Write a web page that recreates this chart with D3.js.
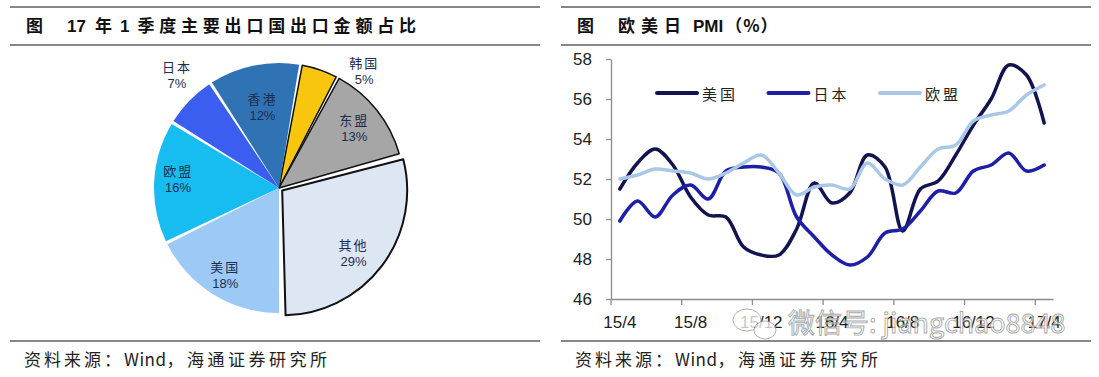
<!DOCTYPE html>
<html>
<head>
<meta charset="utf-8">
<script src="https://cdn.jsdelivr.net/npm/d3@7"></script>
<style>
    body { margin: 0; background: #fff; }
    svg { display: block; }
</style>
</head>
<body>
<svg id="chart" width="1099" height="377"></svg>
<script>
// pie: share of exports, Q1 2017 (clockwise from the top)
const pieNames = ['韩国', '东盟', '其他', '美国', '欧盟', '日本', '香港'];
const pieShares = [5, 13, 29, 18, 16, 7, 12];

// PMI lines
const months = ['15/4', '15/5', '15/6', '15/7', '15/8', '15/9', '15/10', '15/11', '15/12',
    '16/1', '16/2', '16/3', '16/4', '16/5', '16/6', '16/7', '16/8', '16/9', '16/10', '16/11', '16/12',
    '17/1', '17/2', '17/3', '17/4'];
const monthTicks = ['15/4', '15/8', '15/12', '16/4', '16/8', '16/12', '17/4'];
const yTicks = [46, 48, 50, 52, 54, 56, 58];
const seriesNames = ['美国', '日本', '欧盟'];
const usPMI = [51.5, 52.8, 53.5, 52.7, 51.1, 50.2, 50.1, 48.6, 48.2, 48.2, 49.5, 51.8, 50.8,
    51.3, 53.2, 52.6, 49.4, 51.5, 51.9, 53.2, 54.7, 56.0, 57.7, 57.2, 54.8];
const jpPMI = [49.9, 50.9, 50.1, 51.2, 51.7, 51.0, 52.4, 52.6, 52.6, 52.3, 50.1, 49.1, 48.2,
    47.7, 48.1, 49.3, 49.5, 50.4, 51.4, 51.3, 52.4, 52.7, 53.3, 52.4, 52.7];
const euPMI = [52.0, 52.2, 52.5, 52.4, 52.3, 52.0, 52.3, 52.8, 53.2, 52.3, 51.2, 51.6, 51.7,
    51.5, 52.8, 52.0, 51.7, 52.6, 53.5, 53.7, 54.9, 55.2, 55.4, 56.2, 56.7];

const CJK = '"Noto Sans CJK SC", "Noto Sans", sans-serif';
const LATIN = '"Liberation Sans", Arial, sans-serif';

const sliceColors = {
    韩国: '#f8c60f',
    东盟: '#a6a6a6',
    其他: '#dde7f4',
    美国: '#9dc9f6',
    欧盟: '#17bdf1',
    日本: '#3c5ef0',
    香港: '#2f73b5',
};
const sliceStroke = { 韩国: 1.5, 东盟: 1.5, 其他: 2 };
// where Excel put each label: radius factor and optional angle (deg)
const labelPlace = {
    韩国: { f: 1.16, a: 36 },
    东盟: { f: 0.77 },
    其他: { f: 0.79, a: 131 },
    美国: { f: 0.82 },
    欧盟: { f: 0.81, a: 275 },
    日本: { f: 1.22, a: 318 },
    香港: { f: 0.66 },
};
const seriesColors = ['#12134f', '#1d1fa6', '#a9c8e8'];

const svg = d3.select('#chart');

// text made of pieces: [string, letter spacing, gap before, font]
function spacedText(sel, pieces) {
    pieces.forEach(([str, sp, gap, font]) => {
        const t = sel.append('tspan')
            .attr('dx', gap || 0)
            .style('letter-spacing', `${sp}px`)
            .text(str);
        if (font) t.style('font-family', font);
    });
    return sel;
}

function drawFrame(x0, x1, titlePieces) {
    [7, 45, 341].forEach(yy => {
        svg.append('line').attr('x1', x0).attr('x2', x1).attr('y1', yy).attr('y2', yy)
            .attr('stroke', '#111').attr('stroke-width', 1.2);
    });

    svg.append('text')
        .attr('x', x0 + 16).attr('y', 32)
        .style('font-family', CJK).style('font-size', '17px').style('font-weight', 'bold')
        .attr('fill', '#111')
        .text('图');
    const title = svg.append('text')
        .attr('x', x0 + 57).attr('y', 32)
        .style('font-family', CJK).style('font-size', '17px').style('font-weight', 'bold')
        .attr('fill', '#111');
    spacedText(title, titlePieces);

    const foot = svg.append('text')
        .attr('x', x0 + 14).attr('y', 366)
        .style('font-family', CJK).style('font-size', '17px')
        .attr('fill', '#222');
    spacedText(foot, [['资料来源：', 3], ['Wind', 0.5], ['，海通证券研究所', 3.5]]);
}

drawFrame(10, 540, [['17', 0, 0, LATIN], ['年', 0, 9], ['1', 0, 8, LATIN], ['季度主要出口国出口金额占比', 4.8, 8]]);
drawFrame(561, 1091, [['欧美日', 6], ['PMI', 0, 6, LATIN], ['（%）', 1, 2]]);

// ---------- pie ----------
const R = 125;
const start = (10 * Math.PI) / 180;
const pieData = pieNames.map((name, i) => ({ name, v: pieShares[i] }));
const arcs = d3.pie().sort(null).value(d => d.v)
    .startAngle(start).endAngle(start + 2 * Math.PI)(pieData);
const arc = d3.arc().innerRadius(0).outerRadius(R).padAngle(0.026);

const pieG = svg.append('g').attr('transform', 'translate(279,188)');

const explode = d => {
    if (d.data.name !== '其他') return [0, 0];
    const mid = (d.startAngle + d.endAngle) / 2;
    return [Math.sin(mid) * 4, -Math.cos(mid) * 4];
};

pieG.selectAll('path')
    .data(arcs)
    .join('path')
    .attr('transform', d => `translate(${explode(d)})`)
    .attr('d', arc)
    .attr('fill', d => sliceColors[d.data.name])
    .attr('stroke', d => (sliceStroke[d.data.name] ? '#111' : 'none'))
    .attr('stroke-width', d => sliceStroke[d.data.name] || 0)
    .attr('stroke-linejoin', 'round');

const labels = pieG.selectAll('g.lbl')
    .data(arcs)
    .join('g')
    .attr('class', 'lbl')
    .attr('transform', d => {
        const p = labelPlace[d.data.name];
        const ang = p.a != null ? (p.a * Math.PI) / 180 : (d.startAngle + d.endAngle) / 2;
        return `translate(${Math.sin(ang) * R * p.f},${-Math.cos(ang) * R * p.f})`;
    });

labels.append('text')
    .attr('y', -8.5)
    .attr('text-anchor', 'middle')
    .attr('dominant-baseline', 'central')
    .style('font-family', CJK).style('font-size', '13px').style('letter-spacing', '2px')
    .attr('fill', '#1e2d4c')
    .text(d => d.data.name);

labels.append('text')
    .attr('y', 8.5)
    .attr('text-anchor', 'middle')
    .attr('dominant-baseline', 'central')
    .style('font-family', LATIN).style('font-size', '13px')
    .attr('fill', '#1e2d4c')
    .text(d => `${d.data.v}%`);

// ---------- PMI lines ----------
const x = d3.scaleBand().domain(months).range([611, 1053]).padding(0);
const y = d3.scaleLinear().domain([46, 58]).range([299, 59]);
const cx = m => x(m) + x.bandwidth() / 2;

const yAxis = svg.append('g')
    .attr('transform', 'translate(611,0)')
    .call(d3.axisLeft(y).tickValues(yTicks).tickSize(5).tickSizeOuter(0).tickPadding(14));

const xAxis = svg.append('g')
    .attr('transform', 'translate(0,299)')
    .call(d3.axisBottom(x).tickValues(monthTicks).tickSize(0).tickSizeOuter(0).tickPadding(17));

xAxis.selectAll('.tickmark')
    .data(monthTicks)
    .join('line')
    .attr('class', 'tickmark')
    .attr('x1', d => x(d)).attr('x2', d => x(d))
    .attr('y1', 0).attr('y2', 6);

[yAxis, xAxis].forEach(g => {
    g.select('.domain').attr('stroke', '#8c8c8c').attr('stroke-width', 1.3);
    g.selectAll('line').attr('stroke', '#8c8c8c').attr('stroke-width', 1.3);
    g.selectAll('text')
        .style('font-family', LATIN).style('font-size', '17px')
        .attr('fill', '#222');
});

const line = d3.line()
    .x((d, i) => cx(months[i]))
    .y(d => y(d))
    .curve(d3.curveCatmullRom);

[usPMI, jpPMI, euPMI].forEach((values, k) => {
    svg.append('path')
        .datum(values)
        .attr('d', line)
        .attr('fill', 'none')
        .attr('stroke', seriesColors[k])
        .attr('stroke-width', 3.5)
        .attr('stroke-linejoin', 'round')
        .attr('stroke-linecap', 'round');
});

// legend
const legend = svg.append('g').attr('transform', 'translate(657,93)');
const item = legend.selectAll('g')
    .data(seriesNames)
    .join('g')
    .attr('transform', (d, i) => `translate(${i * 111.5},0)`);
item.append('line')
    .attr('x1', 0).attr('x2', 40)
    .attr('stroke', (d, i) => seriesColors[i])
    .attr('stroke-width', 4)
    .attr('stroke-linecap', 'round');
item.append('text')
    .attr('x', 45)
    .attr('dominant-baseline', 'central')
    .style('font-family', CJK).style('font-size', '15px').style('letter-spacing', '3px')
    .attr('fill', '#222')
    .text(d => d);

// watermark over the bottom right
const wm = svg.append('g').attr('opacity', 0.75);
wm.append('ellipse').attr('cx', 747).attr('cy', 320).attr('rx', 14).attr('ry', 11)
    .attr('fill', '#fff').attr('stroke', '#999').attr('stroke-width', 1);
wm.append('ellipse').attr('cx', 765).attr('cy', 330).attr('rx', 11).attr('ry', 9)
    .attr('fill', '#fff').attr('stroke', '#999').attr('stroke-width', 1);
wm.append('text')
    .attr('x', 788).attr('y', 333)
    .style('font-family', CJK).style('font-size', '27px')
    .attr('fill', '#fff').attr('stroke', '#8a8a8a').attr('stroke-width', 0.9)
    .text('微信号: jiangchao8848');
</script>
</body>
</html>
